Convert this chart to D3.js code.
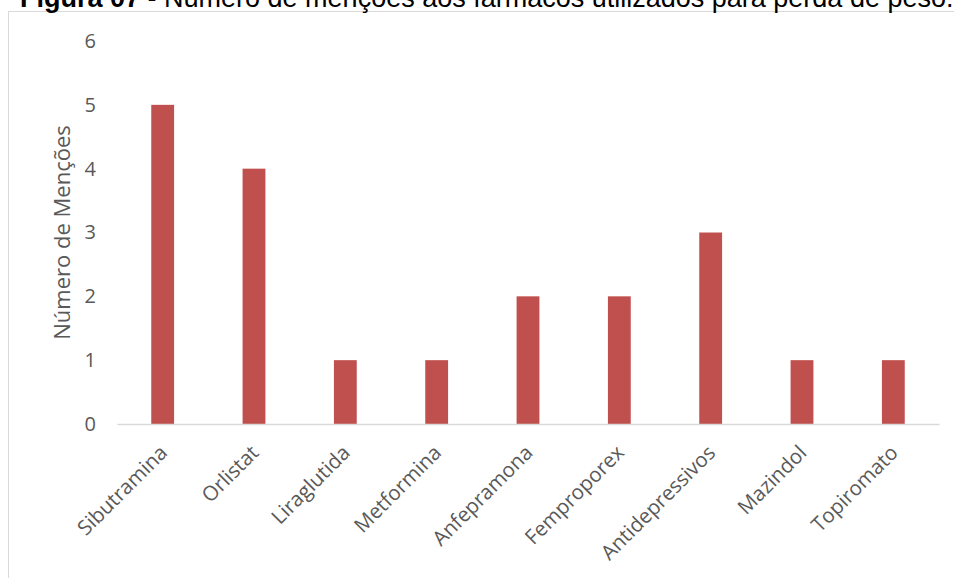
<!DOCTYPE html>
<html>
<head>
<meta charset="utf-8">
<script src="https://cdn.jsdelivr.net/npm/d3@7"></script>
<style>
body { margin: 0; background: #fff; }
svg { display: block; }
</style>
</head>
<body>
<script>
// data
var farmacos = ["Sibutramina", "Orlistat", "Liraglutida", "Metformina", "Anfepramona",
                "Femproporex", "Antidepressivos", "Mazindol", "Topiromato"];
var mencoes = [5, 4, 1, 1, 2, 2, 3, 1, 1];
var yTicks = [0, 1, 2, 3, 4, 5, 6];

var width = 954
var height = 578

var svg = d3.select("body")
	.append("svg")
	.attr("width", width)
	.attr("height", height);

// chart frame (cut off on right and bottom)
svg.append("rect")
	.attr("x", 8.5)
	.attr("y", 11.5)
	.attr("width", 960)
	.attr("height", 600)
	.attr("fill", "none")
	.attr("stroke", "#d9d9d9")
	.attr("stroke-width", 1);

// title, top part clipped by the page edge
var title = svg.append("text")
	.attr("x", 20)
	.attr("y", 7)
	.style("font-family", "'Liberation Sans', Arial, sans-serif")
	.style("font-size", "27px")
	.attr("fill", "#000");
title.append("tspan").style("font-weight", "bold").text("Figura 07");
title.append("tspan").text("  -  Número de menções aos fármacos utilizados para perda de peso.");

var x = d3.scaleBand()
	.domain(farmacos)
	.range([117, 939])
	.paddingInner(0.75)
	.paddingOuter(0.375);

var y = d3.scaleLinear()
	.domain([0, 6])
	.range([424, 41]);

var font = "'Open Sans', 'Noto Sans', sans-serif";

// bars
svg.selectAll("rect.bar")
	.data(mencoes)
	.enter()
	.append("rect")
	.attr("class", "bar")
	.attr("x", function(d, i) { return x(farmacos[i]); })
	.attr("y", function(d) { return y(d); })
	.attr("width", x.bandwidth())
	.attr("height", function(d) { return y(0) - y(d); })
	.attr("fill", "#c0504d");

// x axis
var xAxis = svg.append("g")
	.attr("transform", "translate(0," + y(0) + ")")
	.call(d3.axisBottom(x).tickSize(0).tickPadding(0));
xAxis.select(".domain").attr("stroke", "#d9d9d9").attr("stroke-width", 1.5);
xAxis.selectAll("text")
	.style("font-family", font)
	.style("font-size", "20.5px")
	.attr("fill", "#595959")
	.attr("dy", null)
	.attr("text-anchor", "end")
	.attr("transform", "translate(6,30) rotate(-45)");

// y axis
var yAxis = svg.append("g")
	.attr("transform", "translate(96,0)")
	.call(d3.axisLeft(y).tickValues(yTicks).tickFormat(d3.format("d")).tickSize(0).tickPadding(0));
yAxis.select(".domain").remove();
yAxis.selectAll("text")
	.style("font-family", font)
	.style("font-size", "20px")
	.attr("fill", "#595959");

// y axis title
svg.append("text")
	.attr("transform", "translate(70," + ((y(0) + y(6)) / 2) + ") rotate(-90)")
	.attr("text-anchor", "middle")
	.style("font-family", font)
	.style("font-size", "22px")
	.attr("fill", "#595959")
	.text("Número de Menções");
</script>
</body>
</html>
